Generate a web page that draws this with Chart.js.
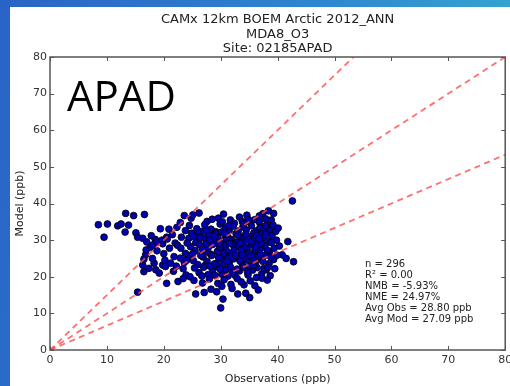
<!DOCTYPE html>
<html>
<head>
<meta charset="utf-8">
<script src="https://cdn.jsdelivr.net/npm/chart.js@4.4.1/dist/chart.umd.min.js"></script>
<style>
  html, body { margin: 0; padding: 0; }
  body {
    width: 510px; height: 386px; overflow: hidden; position: relative;
    background: linear-gradient(100deg, #2a63c6 0%, #2f86cf 55%, #36add0 100%);
  }
  #panel { position: absolute; left: 10px; top: 7px; width: 500px; height: 379px; background: #fff; }
  #plot { position: absolute; left: 0; top: 0; }
</style>
</head>
<body>
<div id="panel"></div>
<canvas id="plot" width="510" height="386"></canvas>
<script>
// MDA8 O3 at site 02185APAD: observed vs modelled (ppb)
const obsPpb = [
  8.5, 9.5, 10.1, 11.9, 12.5, 13.8, 13.2, 13.3, 14.7, 16.6,
  15.1, 15.4, 16.3, 15.4, 16.8, 18.8, 16.3, 16.5, 17.4, 18.3,
  18.6, 19.8, 19.2, 20.3, 21.2, 20.5, 21.8, 19.4, 20.9, 17.0,
  18.5, 19.8, 20.5, 21.5, 17.6, 18.0, 20.0, 21.0, 22.0, 21.7,
  22.5, 20.2, 16.5, 17.8, 16.9, 18.1, 18.8, 19.7, 20.6, 23.6,
  24.8, 25.1, 27.6, 28.5, 29.6, 31.7, 33.3, 33.8, 35.2, 36.0,
  37.4, 37.9, 38.4, 39.3, 34.6, 30.5, 26.2, 32.4, 36.8, 38.9,
  42.6, 22.3, 23.8, 24.5, 25.8, 26.7, 27.2, 28.3, 29.1, 29.9,
  30.8, 31.5, 32.2, 33.1, 33.9, 34.5, 35.4, 36.2, 36.9, 37.6,
  38.7, 39.2, 38.1, 35.8, 26.0, 30.1, 34.0, 24.9, 32.7, 37.2,
  22.9, 23.1, 24.4, 25.3, 26.1, 27.0, 27.9, 28.7, 29.5, 30.4,
  31.2, 31.9, 32.8, 33.5, 34.3, 35.1, 35.9, 36.6, 37.5, 38.3,
  39.0, 39.8, 41.8, 28.1, 30.9, 33.0, 34.8, 36.3, 37.9, 25.6,
  29.1, 32.2, 31.5, 22.4, 23.0, 23.8, 24.7, 25.5, 26.3, 27.1,
  27.8, 28.6, 29.4, 30.1, 30.9, 31.6, 32.4, 33.2, 33.9, 34.7,
  35.5, 36.3, 37.0, 37.8, 38.6, 39.4, 40.3, 29.8, 32.0, 34.2,
  36.0, 38.2, 26.8, 31.0, 35.0, 28.2, 22.9, 23.6, 24.4, 25.2,
  26.0, 26.9, 27.6, 28.4, 29.2, 30.0, 30.7, 31.5, 32.3, 33.0,
  33.8, 34.6, 35.3, 36.1, 36.9, 37.7, 38.5, 39.3, 40.8, 42.8,
  41.5, 29.6, 31.9, 34.1, 36.5, 38.8, 27.2, 33.4, 35.8, 30.4,
  22.2, 23.9, 24.6, 25.4, 26.2, 27.0, 27.8, 28.6, 29.4, 30.2,
  30.9, 31.7, 32.5, 33.3, 34.0, 34.8, 35.6, 36.4, 37.2, 38.0,
  38.7, 39.5, 29.9, 32.1, 35.1, 37.6, 26.7, 31.3, 23.4, 25.3,
  26.8, 28.0, 29.5, 30.6, 31.8, 32.9, 34.1, 35.2, 36.3, 37.3,
  38.2, 33.6, 30.2, 36.0, 25.6, 27.1, 28.3, 30.4, 30.0, 33.0,
  34.4, 36.6, 32.0, 35.1, 29.3, 28.9, 29.7, 30.5, 31.4, 32.6,
  33.4, 34.4, 35.3, 36.2, 37.1, 37.9, 38.9, 39.7, 36.7, 34.9,
  33.6, 31.1, 28.9, 27.4, 26.4, 25.1, 24.1, 23.4, 27.5, 30.3,
  35.7, 37.4, 38.3, 39.9, 40.1, 36.8, 32.9, 34.7, 29.0, 28.1,
  31.6, 30.7, 33.8, 37.0, 24.0, 26.5
];
const modPpb = [
  34.2, 30.8, 34.4, 33.9, 34.4, 34.1, 32.2, 37.3, 36.7, 37.0,
  32.0, 30.8, 30.5, 15.8, 26.0, 27.1, 23.2, 21.4, 22.3, 23.7,
  21.9, 23.2, 21.0, 22.8, 23.7, 18.2, 25.5, 33.1, 33.0, 29.5,
  30.2, 29.0, 30.8, 31.5, 28.0, 25.0, 26.3, 27.8, 29.2, 21.5,
  18.7, 24.5, 24.8, 31.2, 27.3, 28.7, 29.4, 30.0, 30.3, 36.7,
  36.0, 36.9, 35.1, 35.7, 36.0, 35.5, 36.3, 35.1, 34.8, 35.6,
  37.2, 35.8, 38.0, 37.3, 36.8, 37.1, 37.4, 34.6, 34.9, 35.5,
  40.7, 33.5, 32.6, 34.0, 33.1, 32.4, 34.2, 33.0, 32.3, 34.4,
  33.2, 32.6, 33.8, 32.5, 33.6, 32.8, 33.9, 32.5, 33.4, 32.9,
  32.8, 34.1, 34.0, 31.9, 32.0, 32.2, 34.4, 31.9, 31.8, 31.7,
  34.8, 30.8, 30.5, 31.0, 29.8, 30.6, 31.4, 29.6, 30.9, 29.8,
  31.1, 30.2, 29.5, 30.9, 29.9, 31.0, 30.1, 29.4, 30.6, 29.7,
  31.2, 30.0, 29.6, 30.0, 30.5, 31.4, 30.4, 31.3, 31.5, 29.3,
  31.7, 29.0, 30.0, 28.6, 27.8, 26.4, 28.2, 27.1, 28.7, 26.6,
  27.9, 28.8, 26.9, 27.9, 28.6, 26.5, 27.6, 28.5, 26.8, 27.9,
  28.8, 26.6, 27.7, 28.5, 26.9, 27.8, 28.4, 28.3, 28.9, 28.1,
  27.4, 27.2, 27.5, 27.1, 26.4, 26.2, 25.1, 23.9, 25.7, 24.4,
  23.3, 25.4, 24.2, 25.8, 23.6, 24.9, 25.9, 23.8, 24.9, 25.8,
  23.5, 24.6, 25.6, 23.9, 24.9, 25.8, 23.6, 24.7, 26.0, 24.1,
  25.0, 25.3, 25.5, 25.2, 25.3, 25.4, 23.0, 24.3, 24.4, 23.2,
  22.9, 20.5, 20.0, 22.4, 21.1, 22.6, 20.6, 21.8, 22.8, 20.7,
  21.9, 22.7, 20.4, 21.6, 22.6, 20.5, 21.8, 22.5, 20.8, 21.9,
  20.3, 22.2, 22.1, 21.2, 22.9, 22.3, 20.2, 20.2, 19.5, 19.0,
  18.3, 19.4, 18.2, 19.2, 17.9, 19.5, 17.8, 18.9, 19.8, 19.6,
  19.1, 18.6, 17.4, 17.6, 15.3, 15.7, 16.6, 13.9, 11.5, 15.3,
  15.5, 16.4, 16.8, 14.3, 15.9, 31.0, 29.1, 26.4, 33.9, 26.0,
  29.2, 31.6, 29.5, 28.2, 29.0, 33.9, 29.3, 32.4, 30.4, 35.6,
  27.3, 24.3, 23.5, 28.9, 30.7, 26.3, 29.2, 22.2, 32.6, 35.0,
  23.1, 24.2, 22.6, 25.9, 33.3, 36.6, 22.1, 21.3, 20.4, 22.9,
  29.1, 31.8, 26.0, 26.1, 24.5, 25.8
];

// 1.5:1, 1:1 and 1:1.5 reference lines (end points in ppb)
const refLines = [
  [[0, 0], [53.33, 80]],
  [[0, 0], [80, 80]],
  [[0, 0], [80, 53.33]]
];

const axisTicks = [0, 10, 20, 30, 40, 50, 60, 70, 80];
const titleLines = ['CAMx 12km BOEM Arctic 2012_ANN', 'MDA8_O3', 'Site: 02185APAD'];
const statLines = ['n = 296', 'R\u00b2 = 0.00', 'NMB = -5.93%', 'NME = 24.97%', 'Avg Obs = 28.80 ppb', 'Avg Mod = 27.09 ppb'];
const siteLabel = 'APAD';

const FONT = "'DejaVu Sans', sans-serif";

const points = obsPpb.map((o, i) => ({ x: o, y: modPpb[i] }));

const lineSets = refLines.map(seg => ({
  type: 'line',
  data: seg.map(([x, y]) => ({ x, y })),
  borderColor: 'rgba(255, 75, 75, 0.8)',
  borderWidth: 1.8,
  borderDash: [6, 4.5],
  pointRadius: 0,
  fill: false,
  order: 0,
}));

// frame, inside tick marks and all the text drawn around the axes
const decorations = {
  id: 'decorations',
  afterDatasetsDraw(chart) {
    const { ctx, chartArea: a, scales: { x, y } } = chart;
    ctx.save();
    ctx.strokeStyle = '#555';
    ctx.lineWidth = 1;
    ctx.beginPath();
    axisTicks.forEach(v => {
      const px = Math.round(x.getPixelForValue(v)) + 0.5;
      const py = Math.round(y.getPixelForValue(v)) + 0.5;
      ctx.moveTo(px, a.bottom); ctx.lineTo(px, a.bottom - 4);
      ctx.moveTo(px, a.top); ctx.lineTo(px, a.top + 4);
      ctx.moveTo(a.left, py); ctx.lineTo(a.left + 4, py);
      ctx.moveTo(a.right, py); ctx.lineTo(a.right - 4, py);
    });
    ctx.stroke();
    ctx.lineWidth = 1.5;
    ctx.strokeRect(a.left, a.top, a.right - a.left, a.bottom - a.top);
    ctx.restore();
  },
  afterDraw(chart) {
    const { ctx, chartArea: a } = chart;
    ctx.save();
    ctx.fillStyle = '#222';
    ctx.textAlign = 'center';
    ctx.textBaseline = 'middle';
    ctx.font = `13px ${FONT}`;
    const cx = (a.left + a.right) / 2;
    titleLines.forEach((t, i) => ctx.fillText(t, cx, 20 + i * 14.3));

    ctx.textAlign = 'left';
    ctx.font = `10px ${FONT}`;
    statLines.forEach((t, i) => ctx.fillText(t, 365, 264 + i * 11));

    ctx.fillStyle = '#000';
    ctx.textBaseline = 'alphabetic';
    ctx.font = "42px 'Open Sans', sans-serif";
    ctx.fillText(siteLabel, 67, 111);
    ctx.restore();
  }
};

new Chart(document.getElementById('plot'), {
  type: 'scatter',
  data: {
    datasets: [
      ...lineSets,
      {
        data: points,
        backgroundColor: '#0000b0',
        borderColor: '#000',
        borderWidth: 0.8,
        pointRadius: 3.4,
        order: 1,
      },
    ],
  },
  options: {
    responsive: false,
    animation: false,
    events: [],
    layout: { padding: { top: 57, right: 3, bottom: 0, left: 0 } },
    plugins: { legend: { display: false }, tooltip: { enabled: false } },
    scales: {
      x: {
        type: 'linear',
        min: 0,
        max: 80,
        grid: { display: false, drawTicks: false },
        border: { display: false },
        ticks: { stepSize: 10, padding: 4, color: '#333', font: { family: FONT, size: 11 } },
        title: { display: true, text: 'Observations (ppb)', color: '#222', padding: { top: 0, bottom: 0 }, font: { family: FONT, size: 11 } },
        afterFit(scale) { scale.height = 36; scale.paddingLeft = 0; scale.paddingRight = 0; },
      },
      y: {
        type: 'linear',
        min: 0,
        max: 80,
        grid: { display: false, drawTicks: false },
        border: { display: false },
        ticks: { stepSize: 10, padding: 3, color: '#333', font: { family: FONT, size: 11 } },
        title: { display: true, text: 'Model (ppb)', color: '#222', padding: { top: 14, bottom: 0 }, font: { family: FONT, size: 11 } },
        afterFit(scale) { scale.width = 50; scale.paddingTop = 0; scale.paddingBottom = 0; },
      },
    },
  },
  plugins: [decorations],
});
</script>
</body>
</html>
